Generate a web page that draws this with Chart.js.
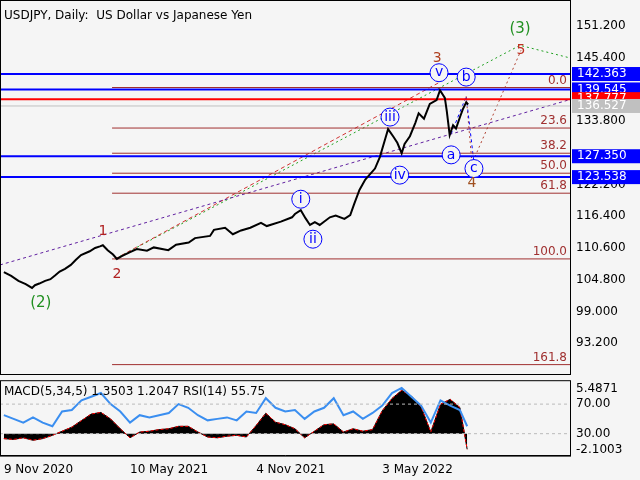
<!DOCTYPE html>
<html><head><meta charset="utf-8">
<script src="https://cdn.jsdelivr.net/npm/chart.js@4"></script>
<style>
body{margin:0;background:#fff;font-family:Tahoma,"DejaVu Sans",sans-serif}
#wrap{position:relative;width:640px;height:480px;background:#f5f5f5}
#main{position:absolute;left:0;top:0}
#sub{position:absolute;left:0;top:372px}
</style></head><body>
<div id="wrap">
<canvas id="main" width="640" height="376"></canvas>
<canvas id="sub" width="640" height="108"></canvas>
</div>
<script>
// weeks since 9 Nov 2020
const weeks = [0,1.5,3,4.5,5.8,6.4,7.3,8.5,9.6,10.6,11.5,12.6,13.8,14.8,15.9,17.7,18.8,19.8,20.4,21.4,22.5,23.3,24.3,25.9,27.4,29.5,30.9,33.9,35.5,38.1,39.4,42.5,43.3,45.6,47.2,48.9,50.8,53.0,54.2,57.1,59.4,60.0,61.2,62.2,63.1,64.1,65.1,67.2,68.4,70.2,71.4,72.2,73.3,74.5,76.5,77.5,78.6,79.2,80.3,81.1,82.0,82.6,83.7,84.8,85.5,86.6,87.8,89.2,89.9,90.9,91.3,91.9,92.6,93.2,94.1,94.6,95.3,95.7];
const closes = [106.2,105.5,104.6,104.0,103.3,103.8,104.1,104.6,104.9,105.6,106.3,106.8,107.5,108.4,109.3,110.0,110.6,110.9,111.1,110.2,109.4,108.6,109.1,109.8,110.4,110.1,110.7,110.2,111.2,111.6,112.4,112.8,113.9,114.3,113.1,113.8,114.3,115.2,114.6,115.4,116.2,116.8,117.5,116.0,114.8,115.3,114.8,116.2,116.5,115.9,116.6,118.6,121.2,123.1,125.1,127.2,130.5,132.3,130.9,129.8,127.9,129.6,131.0,133.4,135.2,134.2,136.9,137.6,139.4,138.0,135.6,131.2,133.0,132.4,134.7,135.9,137.2,136.8];

// levels on the price axis: value, box colour
const axisLevels = [142.363,139.545,137.777,136.527,127.350,123.538];
const axisColors = ["#0000ff","#0000ff","#ff0000","#c0c0c0","#0000ff","#0000ff"];
const priceTicks = [151.2,145.4,133.8,122.2,116.4,110.6,104.8,99.0,93.2];

// fibonacci levels
const fibLabels = ["0.0","23.6","38.2","50.0","61.8","100.0","161.8"];
const fibValues = [139.9,132.5,127.9,124.25,120.6,108.6,89.3];

// wave labels
const waveText = ["(2)","1","2","i","ii","iii","iv","v","3","a","b","c","4","5","(3)"];
const waveWeek = [7.6,20.4,23.3,61.2,63.7,79.6,81.6,89.7,89.3,92.2,95.3,96.9,96.5,106.6,106.4];
const wavePrice = [100.5,113.6,105.7,119.5,112.2,134.5,123.9,142.6,145.3,127.6,141.8,125.1,122.4,146.7,150.5];
const waveColor = ["#209020","#b02020","#b02020","#0000ff","#0000ff","#0000ff","#0000ff","#0000ff","#b04020","#0000ff","#0000ff","#0000ff","#a05020","#c03020","#209020"];
const waveCircle = [0,0,0,1,1,1,1,1,0,1,1,1,0,0,0];

// MACD / RSI (weekly)
const subWeeks = [0,2,4,6,8,10,12,14,16,18,20,22,24,26,28,30,32,34,36,38,40,42,44,46,48,50,52,54,56,58,60,62,64,66,68,70,72,74,76,78,80,82,84,86,88,90,92,94,95.5];
const macd = [-0.6,-0.7,-0.5,-0.8,-0.6,-0.2,0.3,0.8,1.6,2.4,2.6,1.8,0.6,-0.5,0.2,0.3,0.5,0.6,0.9,0.9,0.2,-0.4,-0.5,-0.3,-0.2,-0.4,1.0,2.5,1.4,1.1,0.6,-0.5,0.3,1.1,1.2,0.2,0.6,0.3,0.5,2.8,4.3,5.3,4.6,3.3,0.2,3.6,4.2,3.2,-1.9];
const rsi = [55,50,45,52,45,40,60,62,75,80,85,70,60,45,55,52,55,58,70,65,55,48,50,52,48,60,58,78,65,60,62,50,60,65,78,55,60,50,58,68,85,92,80,68,45,75,68,62,40];
const dateLabels = {0:"9 Nov 2020",26:"10 May 2021",52:"4 Nov 2021",78:"3 May 2022"};

const line = (x0,y0,x1,y1,color,dash) => ({type:"line",data:[{x:x0,y:y0},{x:x1,y:y1}],borderColor:color,borderWidth:1,borderDash:dash,pointRadius:0});

const datasets = [{type:"line",data:weeks.map((w,i)=>({x:w,y:closes[i]})),borderColor:"#000",borderWidth:2,pointRadius:0,tension:0}];
axisLevels.forEach((v,i)=>{
	if (i===3) datasets.push(line(-1,v,117,v,"#c0c0c0",[]));
	else datasets.push(Object.assign(line(-1,v,117,v,axisColors[i],[]),{borderWidth:2}));
});
fibValues.forEach(v=>datasets.push(line(22.3,v,117,v,"#a03030",[])));
datasets.push(line(-0.8,107.5,116.7,137.7,"#6020a0",[3,3]));
datasets.push(line(22.9,108.6,89.9,140.9,"#d03030",[4,3]));
datasets.push({type:"line",data:[{x:22.9,y:108.6},{x:106.4,y:147.6},{x:116.7,y:145.3}],borderColor:"#20a020",borderWidth:1,borderDash:[2,3],pointRadius:0});
datasets.push({type:"line",data:[{x:92.2,y:131.4},{x:95.3,y:138.3},{x:96.9,y:126.2}],borderColor:"#0000ff",borderWidth:1,borderDash:[3,3],pointRadius:0});
datasets.push({type:"line",data:[{x:95.3,y:138.3},{x:96.5,y:126.0},{x:106.6,y:146.7}],borderColor:"#b04030",borderWidth:1,borderDash:[2,3],pointRadius:0});

const overlay = {
	id:"overlay",
	afterDatasetsDraw(chart){
		const ctx=chart.ctx, x=chart.scales.x, y=chart.scales.y;
		ctx.save();
		ctx.font="12px Tahoma, 'DejaVu Sans'";
		ctx.textAlign="right"; ctx.textBaseline="bottom"; ctx.fillStyle="#a03030";
		fibLabels.forEach((t,i)=>ctx.fillText(t,567,y.getPixelForValue(fibValues[i])-1));
		ctx.textAlign="center"; ctx.textBaseline="middle";
		waveText.forEach((t,i)=>{
			const px=x.getPixelForValue(waveWeek[i]), py=y.getPixelForValue(wavePrice[i]);
			ctx.font=(t.startsWith("(")?"15px":"14px")+" Tahoma, 'DejaVu Sans'";
			if (waveCircle[i]) {
				ctx.fillStyle="#f5f5f5"; ctx.strokeStyle="#0000ff"; ctx.lineWidth=1;
				ctx.beginPath(); ctx.arc(px,py,9,0,Math.PI*2); ctx.fill(); ctx.stroke();
			}
			ctx.fillStyle=waveColor[i]; ctx.fillText(t,px,py);
		});
		ctx.font="12px Tahoma, 'DejaVu Sans'"; ctx.textAlign="left";
		axisLevels.forEach((v,i)=>{
			const py=y.getPixelForValue(v);
			ctx.fillStyle=axisColors[i]; ctx.fillRect(572,py-7,68,14);
			ctx.fillStyle="#fff"; ctx.fillText(v.toFixed(3),577,py);
		});
		ctx.fillStyle="#000"; ctx.fillText("USDJPY, Daily:  US Dollar vs Japanese Yen",4,16);
		ctx.strokeStyle="#000"; ctx.lineWidth=1;
		ctx.strokeRect(0.5,0.5,570,374);
		ctx.restore();
	}
};

new Chart(document.querySelector("#main"), {
	data:{datasets:datasets},
	options:{
		responsive:false, animation:false,
		layout:{padding:{top:2,bottom:0}},
		plugins:{legend:{display:false},tooltip:{enabled:false}},
		scales:{
			x:{type:"linear",min:-0.8,max:116.7,display:false},
			y:{type:"linear",position:"right",min:88.9,max:154.2,
				afterBuildTicks:s=>{s.ticks=priceTicks.map(v=>({value:v}));},
				afterFit:s=>{s.width=70;},
				grid:{display:false,drawTicks:true,tickLength:4,color:"#000"},
				border:{color:"#000"},
				ticks:{color:"#000",font:{size:12,family:"Tahoma, 'DejaVu Sans'"},padding:2,callback:v=>v.toFixed(3)}}
		}
	},
	plugins:[overlay]
});

const subOverlay = {
	id:"subOverlay",
	afterDatasetsDraw(chart){
		const ctx=chart.ctx, a=chart.chartArea, r=chart.scales.y;
		ctx.save();
		ctx.strokeStyle="#bbb"; ctx.setLineDash([3,3]);
		[70,30].forEach(v=>{const py=r.getPixelForValue(v);ctx.beginPath();ctx.moveTo(a.left,py);ctx.lineTo(a.right,py);ctx.stroke();});
		ctx.setLineDash([]);
		ctx.font="12px Tahoma, 'DejaVu Sans'"; ctx.fillStyle="#000"; ctx.textBaseline="middle";
		ctx.fillText("MACD(5,34,5) 1.3503 1.2047 RSI(14) 55.75",4,a.top+11);
		ctx.strokeStyle="#000"; ctx.strokeRect(0.5,a.top-0.5,570,a.bottom-a.top+1);
		ctx.restore();
	}
};

new Chart(document.querySelector("#sub"), {
	data:{datasets:[
		{type:"line",data:subWeeks.map((w,i)=>({x:w,y:macd[i]})),yAxisID:"m",borderColor:"#000",borderWidth:1,backgroundColor:"#000",fill:{value:0},pointRadius:0,order:3},
		{type:"line",data:subWeeks.map((w,i)=>({x:w,y:macd[i]})),yAxisID:"m",borderColor:"#ff0000",borderWidth:1,borderDash:[3,2],pointRadius:0,order:2},
		{type:"line",data:subWeeks.map((w,i)=>({x:w,y:rsi[i]})),yAxisID:"y",borderColor:"#3a8ef0",borderWidth:2,pointRadius:0,order:1}
	]},
	options:{
		responsive:false, animation:false,
		layout:{padding:{top:4}},
		plugins:{legend:{display:false},tooltip:{enabled:false}},
		scales:{
			x:{type:"linear",min:-0.8,max:116.7,offset:false,
				afterBuildTicks:s=>{s.ticks=[0,26,52,78].map(v=>({value:v}));},
				grid:{display:false,drawTicks:true,tickLength:4,color:"#000"},
				border:{color:"#000"},
				ticks:{color:"#000",maxRotation:0,align:"start",font:{size:12,family:"Tahoma, 'DejaVu Sans'"},callback:v=>dateLabels[v]}},
			m:{type:"linear",min:-2.68,max:6.42,display:false},
			y:{type:"linear",position:"right",min:0.3,max:101,
				afterBuildTicks:s=>{s.ticks=[90.6,70,30,8.1].map(v=>({value:v}));},
				afterFit:s=>{s.width=70;},
				grid:{display:false,drawTicks:true,tickLength:4,color:"#000"},
				border:{color:"#000"},
				ticks:{color:"#000",padding:2,font:{size:12,family:"Tahoma, 'DejaVu Sans'"},
					callback:v=>({90.6:"5.4871",70:"70.00",30:"30.00",8.1:"-2.1003"})[v]}}
		}
	},
	plugins:[subOverlay]
});
</script>
</body></html>
